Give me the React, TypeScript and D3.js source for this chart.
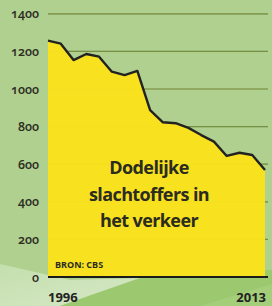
import * as d3 from 'd3';

const YEARS = d3.range(1996, 2014);
const DEATHS = [1257, 1241, 1154, 1186, 1172, 1092, 1074, 1096, 888, 823, 818, 793, 755, 720, 644, 661, 649, 569];
const Y_TICKS = [0, 200, 400, 600, 800, 1000, 1200, 1400];
const TITLE_LINES = ['Dodelijke', 'slachtoffers in', 'het verkeer'];
const SOURCE = 'BRON: CBS';

const VW = 272;
const VH = 306;
const X0 = 48;
const X1 = 265;
const GRID_END = 268;
const Y_ZERO = 277;
const Y_TOP = 13.8;

const BG = '#afd08e';
const YELLOW = '#f8e220';
const GRID = '#5d7f4c';
const INK = '#2b2b22';
const FONT = '"Open Sans", "DejaVu Sans", sans-serif';

const x = d3.scaleLinear().domain([1996, 2013]).range([X0, X1]);
const y = d3.scaleLinear().domain([0, 1400]).range([Y_ZERO, Y_TOP]);

const data = YEARS.map((yr, i) => ({ yr, v: DEATHS[i] }));

const area = d3.area<{ yr: number; v: number }>()
  .x(d => x(d.yr))
  .y0(y(0))
  .y1(d => y(d.v));

const line = d3.line<{ yr: number; v: number }>()
  .x(d => x(d.yr))
  .y(d => y(d.v));

export default function App() {
  return (
    <svg width={VW} height={VH} viewBox={`0 0 ${VW} ${VH}`}
      style={{ position: 'absolute', left: 0, top: 0, display: 'block' }}>
      <defs>
        <linearGradient id="lightWedge" x1="0" y1="0" x2="1" y2="1">
          <stop offset="0" stopColor="#c4dfae" />
          <stop offset="1" stopColor="#d6e8c6" />
        </linearGradient>
      </defs>
      <rect x={0} y={0} width={VW} height={VH} fill={BG} />
      {/* decorative swoosh at the bottom */}
      <polygon points="0,264 70,280 140,278 60,306 0,306" fill="url(#lightWedge)" />
      <polygon points="140,278 272,270 272,306 60,306" fill="#94c463" opacity={0.7} />
      <polygon points="200,306 272,284 272,306" fill="#a8d07e" opacity={0.7} />

      {Y_TICKS.filter(t => t > 0).map(t => (
        <line key={`g${t}`} x1={X0} x2={GRID_END} y1={y(t)} y2={y(t)}
          stroke={GRID} strokeWidth={1.2} />
      ))}

      <path d={area(data) ?? ''} fill={YELLOW} />
      {Y_TICKS.filter(t => t > 0).map(t => (
        <line key={`gy${t}`} x1={X0} x2={GRID_END} y1={y(t)} y2={y(t)}
          stroke="#d8c21a" strokeWidth={0.8} opacity={0.35} />
      ))}
      <path d={area(data) ?? ''} fill={YELLOW} opacity={0.6} />
      <path d={line(data) ?? ''} fill="none" stroke="#222" strokeWidth={2.4} strokeLinejoin="round" />

      <line x1={X0} x2={GRID_END} y1={Y_ZERO} y2={Y_ZERO} stroke="#1a1a1a" strokeWidth={2} />

      {Y_TICKS.map(t => (
        <text key={`t${t}`} x={39} y={y(t)} dy="0.36em" textAnchor="end"
          fontSize={12.5} fontWeight={600} fill={INK} fontFamily={FONT}
          style={{ fontVariantNumeric: 'oldstyle-nums' }}>
          {t}
        </text>
      ))}

      <text x={X0} y={302} fontSize={13} fontWeight={700} fill="#222" fontFamily={FONT}>1996</text>
      <text x={GRID_END - 2} y={302} textAnchor="end" fontSize={13} fontWeight={700} fill="#222" fontFamily={FONT}>2013</text>

      <text x={55} y={268} fontSize={9} fontWeight={700} fill={INK} fontFamily={FONT}>{SOURCE}</text>

      {TITLE_LINES.map((l, i) => (
        <text key={l} x={149} y={174 + i * 26.5} textAnchor="middle"
          fontSize={18} fontWeight={700} fill={INK} fontFamily={FONT} letterSpacing={-0.6}>
          {l}
        </text>
      ))}
    </svg>
  );
}
